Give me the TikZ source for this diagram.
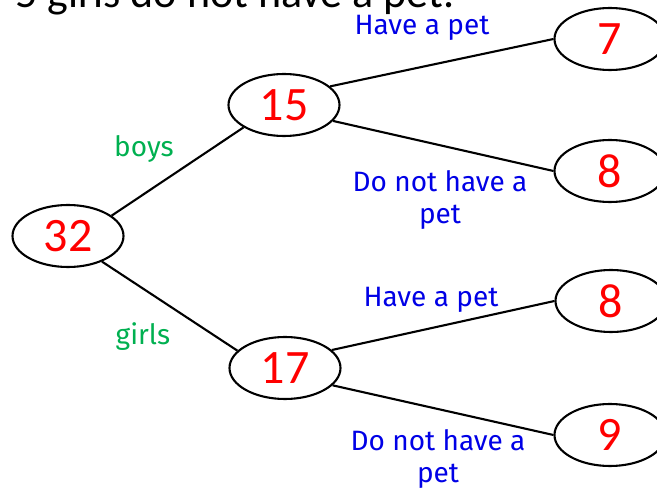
\documentclass[tikz,border=0pt]{standalone}
\usepackage{fontspec}
\setmainfont{Carlito}
\newfontfamily\handfont{Fira Sans}
\usetikzlibrary{shapes.geometric}
\definecolor{numred}{RGB}{255,0,0}
\definecolor{petblue}{RGB}{0,0,230}
\definecolor{kidgreen}{RGB}{0,176,80}

\begin{document}
\begin{tikzpicture}[x=1pt, y=-1pt,
	count/.style={ellipse, draw, line width=2.1pt, minimum width=111pt, minimum height=62pt, inner sep=0pt, text=numred, font=\fontsize{48}{48}\selectfont},
	branch/.style={line width=2.1pt},
	pet/.style={anchor=base, text=petblue, align=center, font=\handfont\fontsize{28}{32}\selectfont},
	kid/.style={anchor=base, text=kidgreen, font=\handfont\fontsize{28}{32}\selectfont}]
	\useasboundingbox (0,0) rectangle (657,494);
	\clip (0,0) rectangle (657,494);

	% cut-off line of the question above the tree
	\node[anchor=base west, inner sep=0pt, font=\fontsize{44}{44}\selectfont] (question) at (15,8) {5 girls do not have a pet.};

	% counts
	\node[count] (total) at (68,236) {32};
	\node[count] (boys) at (284,105) {15};
	\node[count] (girls) at (285,368) {17};
	\node[count] (boyspet) at (610,39) {7};
	\node[count] (boysnopet) at (610,171) {8};
	\node[count] (girlspet) at (611,301) {8};
	\node[count] (girlsnopet) at (610,435) {9};

	% branches
	\draw[branch] (total.25) -- (boys.209);
	\draw[branch] (total.323) -- (girls.160);
	\draw[branch] (boys.22) -- (boyspet.west);
	\draw[branch] (boys.342) -- (boysnopet.west);
	\draw[branch] (girls.21) -- (girlspet.west);
	\draw[branch] (girls.340) -- (girlsnopet.west);

	% labels (base = baseline of the last line)
	\node[kid] (boyslabel) at (144,157) {boys};
	\node[kid] (girlslabel) at (143,345) {girls};
	\node[pet] (boyspetlabel) at (422,35) {Have a pet};
	\node[pet] (boysnopetlabel) at (440,224) {Do not have a\\pet};
	\node[pet] (girlspetlabel) at (431,307) {Have a pet};
	\node[pet] (girlsnopetlabel) at (438,483) {Do not have a\\pet};
\end{tikzpicture}
\end{document}
